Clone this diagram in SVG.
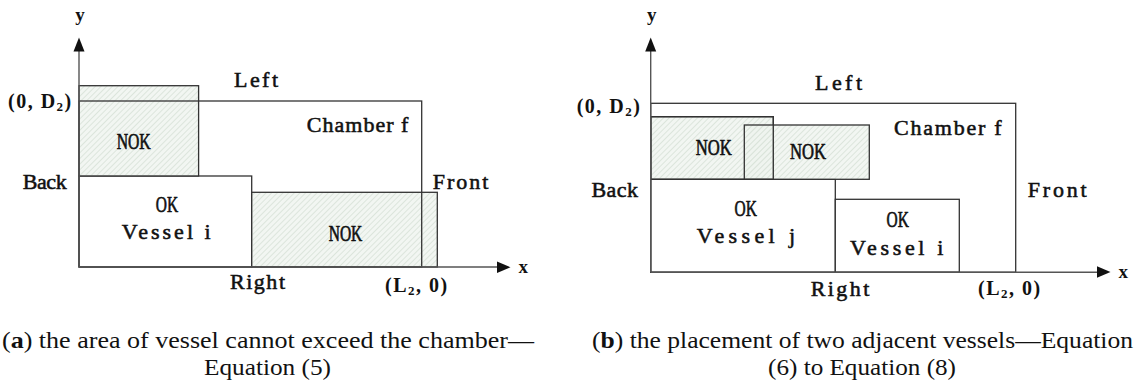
<svg xmlns="http://www.w3.org/2000/svg" width="1137" height="381" viewBox="0 0 1137 381">
<style>
.bg{fill:#ffffff}
.box{fill:#ffffff;stroke:#333;stroke-width:1.3}
.frame{fill:none;stroke:#333;stroke-width:1.3}
.nok{fill:url(#hatch);stroke:#333;stroke-width:1.3}
.axis{fill:none;stroke:#555;stroke-width:1.4}
.head{fill:#111}
.lbl{font-family:"Liberation Serif","DejaVu Serif",serif;font-size:22px;fill:#111;stroke:#111;stroke-width:0.55}
.cap2{font-family:"Liberation Serif","DejaVu Serif",serif;font-size:24px;fill:#111;stroke:#111;stroke-width:0.7}
.crd{font-family:"Liberation Serif","DejaVu Serif",serif;font-size:20px;font-weight:bold;fill:#111;letter-spacing:1.5px}
.ax{font-family:"Liberation Serif","DejaVu Serif",serif;font-size:19px;font-weight:bold;fill:#111}
.cap{font-family:"Liberation Serif","DejaVu Serif",serif;font-size:23px;fill:#111}
</style>
<defs>
<pattern id="hatch" patternUnits="userSpaceOnUse" width="4" height="4" patternTransform="rotate(45)">
<rect width="4" height="4" fill="#edf3ed" fill-opacity="0.75"/>
<line x1="0" y1="0" x2="0" y2="4" stroke="#cdd9cd" stroke-width="1.2"/>
</pattern>
</defs>
<rect class="bg" width="1137" height="381"/>

<!-- Panel (a) -->
<g id="a-vessel-i">
<rect class="box" x="79" y="176" width="172.7" height="91"/>
<text class="cap2" x="167" y="212" text-anchor="middle" textLength="22.3" lengthAdjust="spacingAndGlyphs">OK</text>
<text class="lbl" x="121.7" y="239" textLength="89" lengthAdjust="spacing">Vessel i</text>
</g>
<g id="a-nok-top">
<rect class="nok" x="79" y="85.7" width="119.6" height="90.3"/>
<text class="cap2" x="116.7" y="149" textLength="34" lengthAdjust="spacingAndGlyphs">NOK</text>
</g>
<g id="a-nok-right">
<rect class="nok" x="251.7" y="192.3" width="185.6" height="74.7"/>
<text class="cap2" x="328.7" y="240.5" textLength="33.6" lengthAdjust="spacingAndGlyphs">NOK</text>
</g>
<g id="a-chamber">
<rect class="frame" x="79" y="101" width="342.7" height="166"/>
<text class="lbl" x="306.7" y="132" textLength="101.7" lengthAdjust="spacing">Chamber f</text>
<text class="lbl" x="234" y="87" textLength="44" lengthAdjust="spacing">Left</text>
<text class="lbl" x="22.7" y="189" textLength="44" lengthAdjust="spacing">Back</text>
<text class="lbl" x="432.7" y="189" textLength="55.6" lengthAdjust="spacing">Front</text>
<text class="lbl" x="230" y="289" textLength="55" lengthAdjust="spacing">Right</text>
<text class="crd" x="8" y="107.5">(0, D<tspan font-size="13" dy="3">2</tspan><tspan dy="-3">)</tspan></text>
<text class="crd" x="385" y="292">(L<tspan font-size="13" dy="3">2</tspan><tspan dy="-3">, 0)</tspan></text>
</g>

<!-- Panel (b) -->
<g id="b-vessel-j">
<rect class="box" x="650.7" y="179.3" width="184.6" height="93"/>
<text class="cap2" x="745.7" y="216" text-anchor="middle" textLength="22.3" lengthAdjust="spacingAndGlyphs">OK</text>
<text class="lbl" x="696.7" y="243.3" textLength="98.3" lengthAdjust="spacing">Vessel j</text>
</g>
<g id="b-vessel-i">
<rect class="box" x="835.3" y="199.3" width="124" height="73"/>
<text class="cap2" x="897.7" y="226.7" text-anchor="middle" textLength="22.3" lengthAdjust="spacingAndGlyphs">OK</text>
<text class="lbl" x="850" y="255" textLength="93.3" lengthAdjust="spacing">Vessel i</text>
</g>
<g id="b-nok-1">
<rect class="nok" x="650.7" y="116.7" width="122.6" height="62.6"/>
<text class="cap2" x="695.7" y="155" textLength="36" lengthAdjust="spacingAndGlyphs">NOK</text>
</g>
<g id="b-nok-2">
<rect class="nok" x="744.3" y="125" width="125" height="54.3"/>
<rect class="frame" x="650.7" y="116.7" width="122.6" height="62.6"/>
<text class="cap2" x="790" y="159.3" textLength="36" lengthAdjust="spacingAndGlyphs">NOK</text>
</g>
<g id="b-chamber">
<rect class="frame" x="650.7" y="103.3" width="365" height="169"/>
<text class="lbl" x="894" y="135" textLength="107.7" lengthAdjust="spacing">Chamber f</text>
<text class="lbl" x="815" y="90" textLength="47" lengthAdjust="spacing">Left</text>
<text class="lbl" x="591.5" y="197" textLength="46.5" lengthAdjust="spacing">Back</text>
<text class="lbl" x="1027.7" y="197" textLength="59" lengthAdjust="spacing">Front</text>
<text class="lbl" x="810.7" y="296" textLength="58.6" lengthAdjust="spacing">Right</text>
<text class="crd" x="576.7" y="113.3">(0, D<tspan font-size="13" dy="3">2</tspan><tspan dy="-3">)</tspan></text>
<text class="crd" x="978" y="295">(L<tspan font-size="13" dy="3">2</tspan><tspan dy="-3">, 0)</tspan></text>
</g>

<!-- Axes (connectors) -->
<g id="connectors">
<line class="axis" x1="79" y1="267" x2="79" y2="48"/>
<polygon class="head" points="79,37.5 73.5,51.5 84.5,51.5"/>
<line class="axis" x1="79" y1="267" x2="500" y2="267"/>
<polygon class="head" points="510.5,267.3 497,261.5 497,273"/>
<line class="axis" x1="650.7" y1="272.3" x2="650.7" y2="48"/>
<polygon class="head" points="650.7,37.5 645.2,51.5 656.2,51.5"/>
<line class="axis" x1="650.7" y1="272.3" x2="1100" y2="272.3"/>
<polygon class="head" points="1110.5,272 1097,266.2 1097,277.8"/>
</g>
<g id="axis-labels">
<text class="ax" x="80" y="21" text-anchor="middle">y</text>
<text class="ax" x="518.5" y="272.5">x</text>
<text class="ax" x="651.7" y="21" text-anchor="middle">y</text>
<text class="ax" x="1118.5" y="278">x</text>
</g>

<!-- Captions -->
<g id="captions">
<text class="cap" x="2" y="348" textLength="532" lengthAdjust="spacingAndGlyphs">(<tspan font-weight="bold">a</tspan>) the area of vessel cannot exceed the chamber—</text>
<text class="cap" x="204" y="375" textLength="127" lengthAdjust="spacingAndGlyphs">Equation (5)</text>
<text class="cap" x="592" y="348" textLength="541" lengthAdjust="spacingAndGlyphs">(<tspan font-weight="bold">b</tspan>) the placement of two adjacent vessels—Equation</text>
<text class="cap" x="768" y="375" textLength="188" lengthAdjust="spacingAndGlyphs">(6) to Equation (8)</text>
</g>
</svg>
